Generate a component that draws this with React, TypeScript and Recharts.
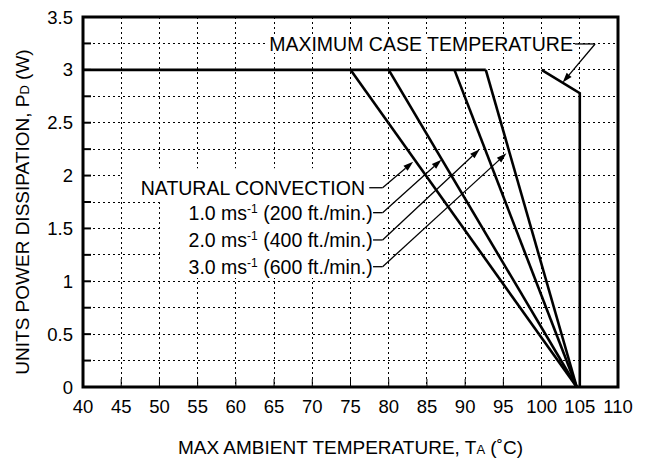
import {
  LineChart,
  Line,
  XAxis,
  YAxis,
  CartesianGrid,
  ReferenceLine,
  ReferenceDot,
  ReferenceArea,
} from "recharts";

const font = '"Liberation Sans", Arial, Helvetica, sans-serif';

// axes
const tempTicks = [40, 45, 50, 55, 60, 65, 70, 75, 80, 85, 90, 95, 100, 105, 110];
const powerTicks = [0, 0.25, 0.5, 0.75, 1, 1.25, 1.5, 1.75, 2, 2.25, 2.5, 2.75, 3, 3.25, 3.5];

// derating: flat at max power, then straight down to zero
const maxPower = 3;
const flatEndTemp = 92.7;
const airflowStartTemp = [75, 80, 88.6, 92.7]; // natural, 1.0, 2.0, 3.0 m/s
const zeroPowerTemp = 104.6;

// maximum case temperature limit
const caseTemp = [100, 105, 105];
const casePower = [3, 2.78, 0];

// airflow callouts
const labelMain = ["NATURAL CONVECTION", "1.0 ms", "2.0 ms", "3.0 ms"];
const labelSup = ["", "-1", "-1", "-1"];
const labelRest = ["", " (200 ft./min.)", " (400 ft./min.)", " (600 ft./min.)"];
const labelPower = [1.885, 1.649, 1.391, 1.138];
const labelEndTemp = [76.9, 77.9, 77.9, 77.9];
const leaderStartTemp = [77.45, 77.95, 77.95, 77.95];
const leaderBendTemp = 79.2;
const arrowTipTemp = [83.2, 86.9, 91.9, 95.4];
const arrowTipPower = [2.13, 2.15, 2.25, 2.21];

// case temperature callout
const caseLabel = "MAXIMUM CASE TEMPERATURE";
const caseLabelEnd = { x: 104.1, y: 3.245 };
const caseLeader = [
  { x: 104.35, y: 3.245 },
  { x: 107, y: 3.245 },
  { x: 102.76, y: 2.88 },
];

const flatData = [
  { x: 40, y: maxPower },
  { x: flatEndTemp, y: maxPower },
];
const airflowData = airflowStartTemp.map((t) => [
  { x: t, y: maxPower },
  { x: zeroPowerTemp, y: 0 },
]);
const caseData = caseTemp.map((t, i) => ({ x: t, y: casePower[i] }));

const Arrow = (p: any) => {
  const { x1, y1, x2, y2 } = p;
  const a = Math.atan2(y2 - y1, x2 - x1);
  const len = 10;
  const w = 3.2;
  const bx = x2 - len * Math.cos(a);
  const by = y2 - len * Math.sin(a);
  const pts = `${x2},${y2} ${bx + w * Math.sin(a)},${by - w * Math.cos(a)} ${bx - w * Math.sin(a)},${by + w * Math.cos(a)}`;
  return (
    <g>
      <line x1={x1} y1={y1} x2={bx} y2={by} stroke="#000" strokeWidth={1.3} />
      <polygon points={pts} fill="#000" />
    </g>
  );
};

const airflowText = (i: number) => (p: any) => (
  <text x={p.cx} y={p.cy + 7} textAnchor="end" fontSize={19.5} fontFamily={font} fill="#000">
    {labelMain[i]}
    {labelSup[i] && (
      <tspan dy={-7} fontSize={12}>
        {labelSup[i]}
      </tspan>
    )}
    {labelRest[i] && <tspan dy={7}>{labelRest[i]}</tspan>}
  </text>
);

const caseText = (p: any) => (
  <text x={p.cx} y={p.cy + 7} textAnchor="end" fontSize={19.5} fontFamily={font} fill="#000">
    {caseLabel}
  </text>
);

const XTitle = (p: any) => {
  const vb = p.viewBox;
  return (
    <text x={vb.x + vb.width / 2} y={vb.y + 67} textAnchor="middle" fontSize={19} fontFamily={font} fill="#000">
      MAX AMBIENT TEMPERATURE, T<tspan fontSize={13}>A</tspan> (˚C)
    </text>
  );
};

const YTitle = (p: any) => {
  const vb = p.viewBox;
  const cx = 22;
  const cy = vb.y + vb.height / 2 + 10;
  return (
    <text
      x={cx}
      y={cy}
      dy={7}
      transform={`rotate(-90 ${cx} ${cy})`}
      textAnchor="middle"
      fontSize={19}
      fontFamily={font}
      fill="#000"
    >
      UNITS POWER DISSIPATION, P<tspan fontSize={13}>D</tspan> (W)
    </text>
  );
};

export default function App() {
  return (
    <div style={{ position: "absolute", left: 0, top: 0, background: "#fff" }}>
      <LineChart width={652} height={463} margin={{ top: 17, right: 34, bottom: 0, left: 0 }}>
        <CartesianGrid stroke="#000" strokeDasharray="2 3" strokeWidth={1} shapeRendering="crispEdges" />
        <XAxis
          type="number"
          dataKey="x"
          domain={[40, 110]}
          ticks={tempTicks}
          interval={0}
          height={76}
          axisLine={false}
          tickSize={-8}
          tickMargin={21}
          tickLine={{ stroke: "#000", strokeWidth: 1 }}
          tick={{ fill: "#000", fontSize: 18.5, fontFamily: font }}
          label={XTitle}
        />
        <YAxis
          type="number"
          domain={[0, 3.5]}
          ticks={powerTicks}
          interval={0}
          width={83}
          axisLine={false}
          tickSize={-8}
          tickMargin={18}
          tickLine={{ stroke: "#000", strokeWidth: 2 }}
          tick={{ fill: "#000", fontSize: 18.5, fontFamily: font }}
          tickFormatter={(v: number) => ((v * 2) % 1 === 0 ? String(v) : "")}
          label={YTitle}
        />

        {/* white boxes behind the callout text */}
        <ReferenceArea x1={64.1} x2={104.1} y1={3.16} y2={3.33} fill="#fff" fillOpacity={1} stroke="none" />
        <ReferenceArea x1={45.1} x2={79.25} y1={1.77} y2={2.07} fill="#fff" fillOpacity={1} stroke="none" />
        <ReferenceArea x1={50.07} x2={79.25} y1={1.03} y2={1.77} fill="#fff" fillOpacity={1} stroke="none" />

        <ReferenceArea x1={40} x2={110} y1={0} y2={3.5} fill="none" stroke="#000" strokeWidth={3} />

        <Line data={flatData} dataKey="y" stroke="#000" strokeWidth={2.6} dot={false} activeDot={false} isAnimationActive={false} />
        {airflowData.map((d, i) => (
          <Line key={i} data={d} dataKey="y" stroke="#000" strokeWidth={2.6} dot={false} activeDot={false} isAnimationActive={false} />
        ))}
        <Line data={caseData} dataKey="y" stroke="#000" strokeWidth={2.6} dot={false} activeDot={false} isAnimationActive={false} />

        {labelMain.map((_, i) => (
          <ReferenceLine
            key={`h${i}`}
            segment={[
              { x: leaderStartTemp[i], y: labelPower[i] },
              { x: leaderBendTemp, y: labelPower[i] },
            ]}
            stroke="#000"
            strokeWidth={1.3}
          />
        ))}
        {labelMain.map((_, i) => (
          <ReferenceLine
            key={`a${i}`}
            segment={[
              { x: leaderBendTemp, y: labelPower[i] },
              { x: arrowTipTemp[i], y: arrowTipPower[i] },
            ]}
            shape={Arrow}
          />
        ))}
        {labelMain.map((_, i) => (
          <ReferenceDot key={`t${i}`} x={labelEndTemp[i]} y={labelPower[i]} shape={airflowText(i)} />
        ))}

        <ReferenceLine segment={[caseLeader[0], caseLeader[1]]} stroke="#000" strokeWidth={1.3} />
        <ReferenceLine segment={[caseLeader[1], caseLeader[2]]} shape={Arrow} />
        <ReferenceDot x={caseLabelEnd.x} y={caseLabelEnd.y} shape={caseText} />
      </LineChart>
    </div>
  );
}
